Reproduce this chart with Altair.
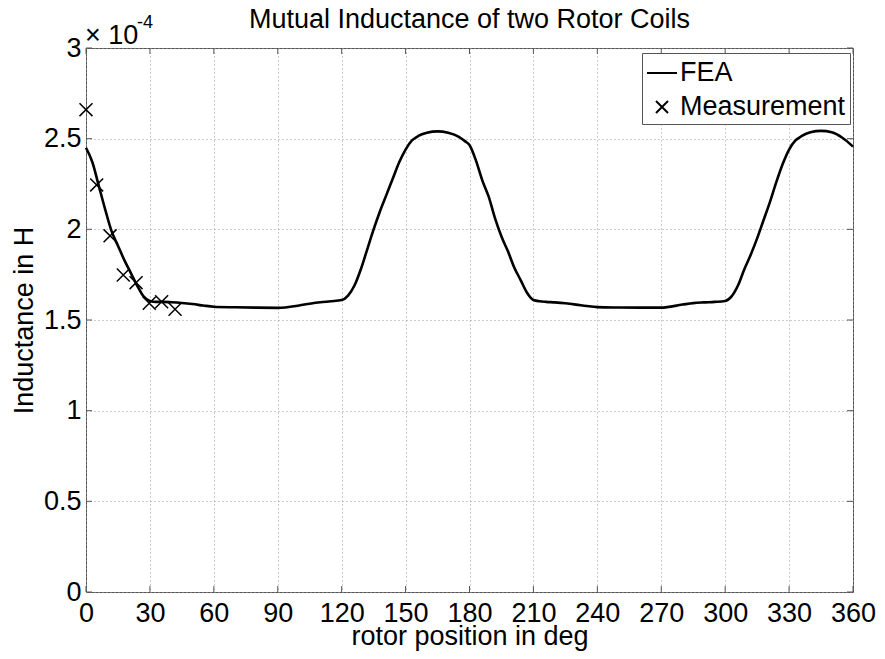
import altair as alt
import pandas as pd

# ---------------- data (inductance in units of 1e-4 H) ----------------
fea_deg = [0, 3, 6, 9, 12, 15, 18, 21, 24, 27, 30, 33, 36, 40, 45, 50, 55, 60, 70, 80, 90,
           100, 105, 110, 115, 120, 123, 126, 129, 132, 135, 138, 141, 144, 147, 150, 153,
           156, 160, 165, 170, 175, 178, 180, 183, 186, 189, 192, 195, 198, 201, 204, 207,
           210, 213, 216, 220, 225, 230, 235, 240, 250, 260, 270, 280, 285, 290, 295, 300,
           303, 306, 309, 312, 315, 318, 321, 324, 327, 330, 333, 336, 340, 345, 350, 355, 360]
fea_val = [2.45, 2.37, 2.24, 2.11, 1.99, 1.91, 1.83, 1.76, 1.69, 1.63, 1.605, 1.60, 1.60,
           1.598, 1.594, 1.588, 1.58, 1.573, 1.57, 1.568, 1.567,
           1.58, 1.59, 1.598, 1.603, 1.61, 1.635, 1.69, 1.78, 1.89, 2.00, 2.10, 2.19, 2.28,
           2.37, 2.44, 2.49, 2.515, 2.532, 2.54, 2.532, 2.51, 2.485, 2.465, 2.38, 2.27, 2.18,
           2.06, 1.96, 1.88, 1.79, 1.72, 1.65, 1.61, 1.603, 1.60, 1.597, 1.592, 1.585, 1.577,
           1.571, 1.569, 1.568, 1.568, 1.585, 1.593, 1.597, 1.60, 1.605, 1.63, 1.69, 1.78,
           1.86, 1.95, 2.05, 2.15, 2.26, 2.36, 2.44, 2.49, 2.515, 2.535, 2.543, 2.535, 2.505, 2.456]
meas_deg = [0, 5, 11.3, 17.5, 23.5, 29.7, 35.5, 41.8]
meas_val = [2.66, 2.245, 1.964, 1.748, 1.706, 1.592, 1.601, 1.559]
series_names = ["FEA", "Measurement"]
x_ticks = list(range(0, 361, 30))
y_ticks = [0, 0.5, 1, 1.5, 2, 2.5, 3]
title_text = "Mutual Inductance of two Rotor Coils"

# ---------------- style ----------------
W, H = 767, 544
FONT = "Liberation Sans"
FS = 27
AX = "#555555"
XPATH = "M-0.4,-0.4L0.4,0.4M0.4,-0.4L-0.4,0.4"

fea = pd.DataFrame({"deg": fea_deg, "val": fea_val})
meas = pd.DataFrame({"deg": meas_deg, "val": meas_val, "series": series_names[1]})
xt = pd.DataFrame({"t": x_ticks})
yt = pd.DataFrame({"t": y_ticks})
one = pd.DataFrame({"a": [0]})

xscale = alt.Scale(domain=[0, 360], nice=False, zero=False)
yscale = alt.Scale(domain=[0, 3], nice=False, zero=False)

common_axis = dict(grid=True, gridDash=[1, 3], gridColor="#999999", gridWidth=1,
                   domain=False, ticks=False, labelFontSize=FS, labelFont=FONT,
                   labelColor="black", labelFlush=False, labelOverlap=False,
                   titleFontSize=FS, titleFont=FONT, titleFontWeight="normal",
                   titleColor="black")

x_axis = alt.Axis(values=x_ticks, title="rotor position in deg", labelPadding=8,
                  titlePadding=-3, **common_axis)
y_axis = alt.Axis(values=y_ticks, title="Inductance in H", format="~g", labelPadding=5,
                  titlePadding=5, **common_axis)

line = alt.Chart(fea).mark_line(color="black", strokeWidth=2.6, interpolate="monotone").encode(
    x=alt.X("deg:Q", scale=xscale, axis=x_axis),
    y=alt.Y("val:Q", scale=yscale, axis=y_axis),
)

points = alt.Chart(meas).mark_point(filled=False, color="black", size=1050,
                                    strokeWidth=1.5, opacity=1).encode(
    x=alt.X("deg:Q", scale=xscale),
    y=alt.Y("val:Q", scale=yscale),
    shape=alt.Shape("series:N",
                    scale=alt.Scale(domain=series_names, range=["stroke", XPATH]),
                    legend=alt.Legend(title=None, orient="none", legendX=556, legendY=5,
                                      direction="vertical", fillColor="white",
                                      strokeColor=AX, padding=4, labelFontSize=FS,
                                      labelFont=FONT, labelColor="black", symbolSize=900,
                                      symbolStrokeWidth=2, symbolStrokeColor="black",
                                      symbolFillColor="transparent", labelOffset=2,
                                      labelLimit=400, rowPadding=5, symbolOpacity=1)),
)

tick_len = 6
bottom_ticks = alt.Chart(xt).mark_rule(color=AX).encode(
    x=alt.X("t:Q", scale=xscale), y=alt.value(H), y2=alt.value(H - tick_len))
top_ticks = alt.Chart(xt).mark_rule(color=AX).encode(
    x=alt.X("t:Q", scale=xscale), y=alt.value(0), y2=alt.value(tick_len))
left_ticks = alt.Chart(yt).mark_rule(color=AX).encode(
    y=alt.Y("t:Q", scale=yscale), x=alt.value(0), x2=alt.value(tick_len))
right_ticks = alt.Chart(yt).mark_rule(color=AX).encode(
    y=alt.Y("t:Q", scale=yscale), x=alt.value(W), x2=alt.value(W - tick_len))

exp_base = alt.Chart(one).mark_text(text="\u00d7 10", font=FONT, fontSize=FS, align="left",
                                    baseline="alphabetic", color="black").encode(
    x=alt.value(-1), y=alt.value(-4))
exp_pow = alt.Chart(one).mark_text(text="-4", font=FONT, fontSize=18, align="left",
                                   baseline="alphabetic", color="black").encode(
    x=alt.value(51), y=alt.value(-20))
title = alt.Chart(one).mark_text(text=title_text, font=FONT, fontSize=FS, align="center",
                                 baseline="alphabetic", color="black").encode(
    x=alt.value(W / 2), y=alt.value(-20))

chart = alt.layer(
    bottom_ticks, top_ticks, left_ticks, right_ticks, line, points, exp_base, exp_pow, title
).properties(
    width=W, height=H,
    padding={"left": 78, "top": 40, "right": 24, "bottom": 59},
    autosize=alt.AutoSizeParams(type="none"),
    background="white",
).configure_view(stroke=AX, strokeWidth=1)

chart.save("out.html", embed_options={"renderer": "svg", "actions": False})
